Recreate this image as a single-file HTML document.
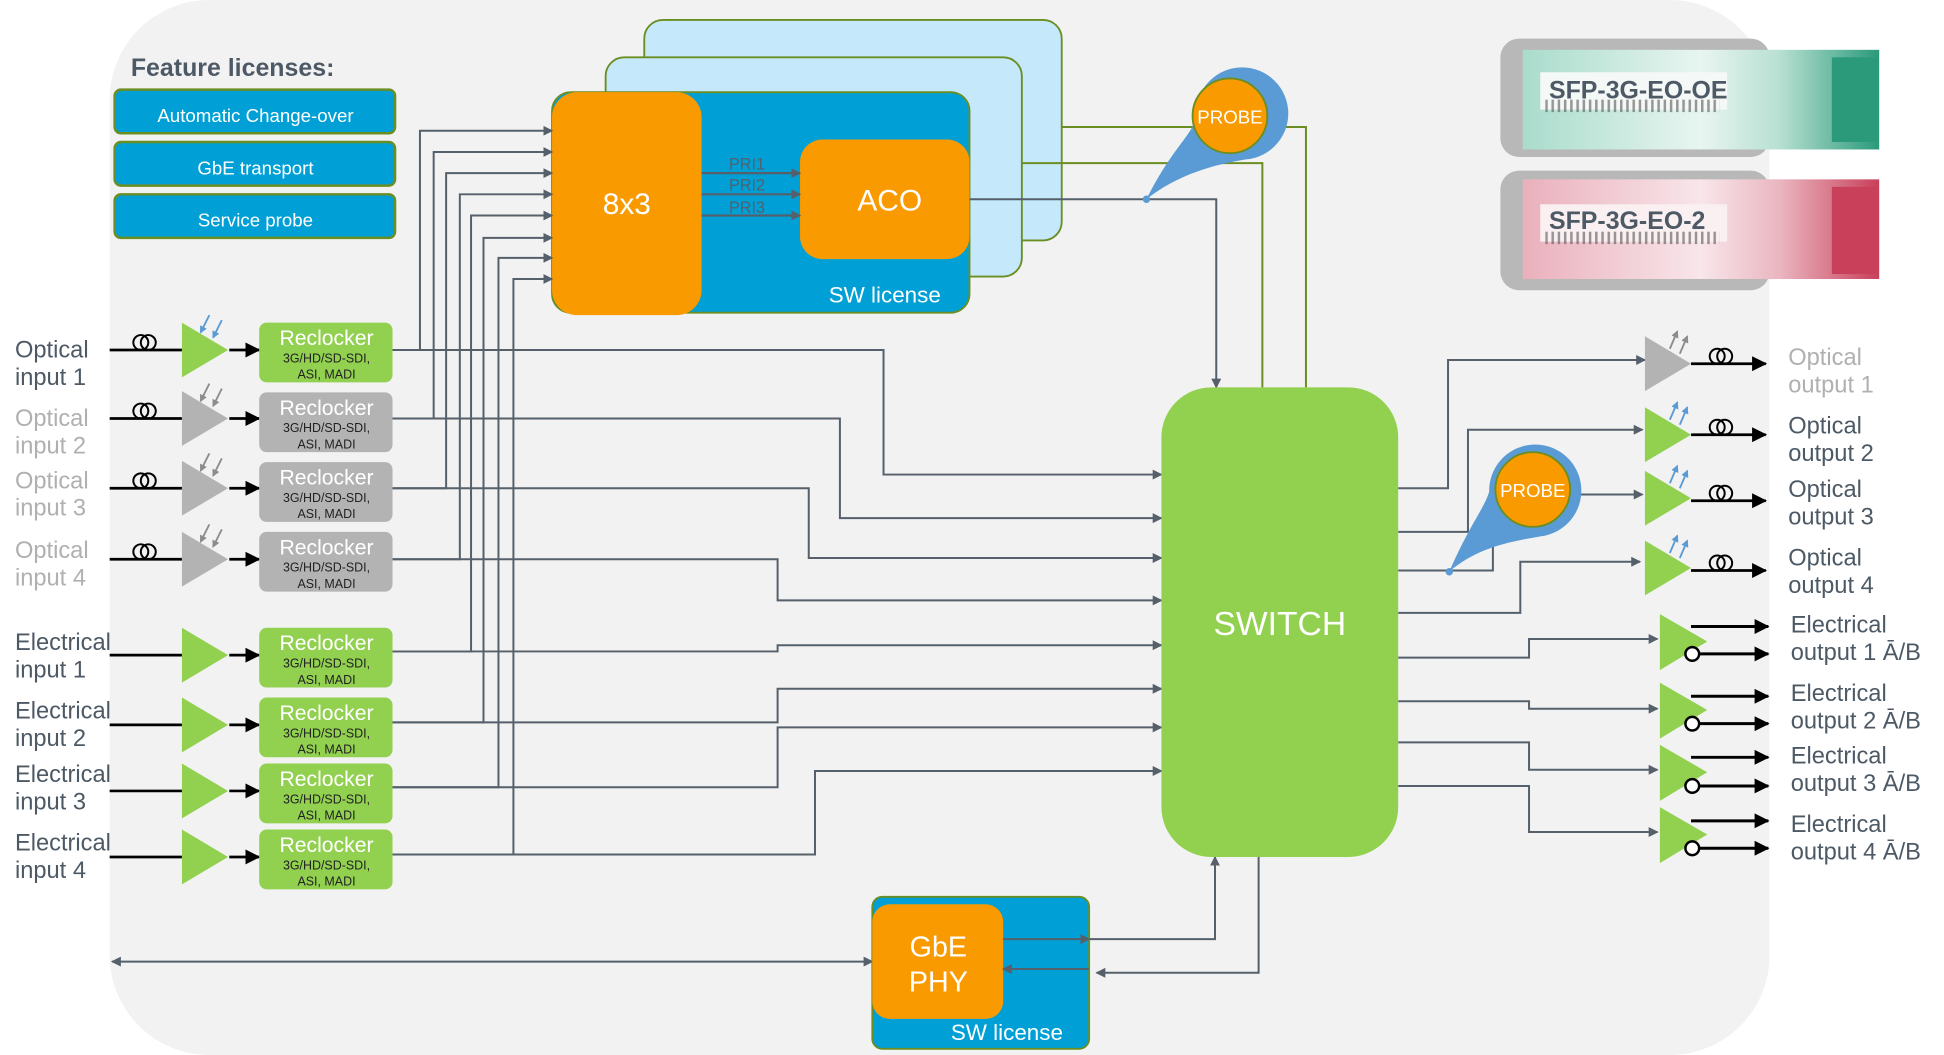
<!DOCTYPE html>
<html><head><meta charset="utf-8"><style>
html,body{margin:0;padding:0;background:#fff;}
svg{display:block;}
text{font-family:"Liberation Sans",sans-serif;}
</style></head><body>
<svg width="1944" height="1055" viewBox="0 0 1560 847" preserveAspectRatio="none" xmlns="http://www.w3.org/2000/svg">
<defs>
<marker id="ag" markerWidth="8" markerHeight="8" refX="7" refY="4" orient="auto" markerUnits="userSpaceOnUse"><path d="M0,0 L8,4 L0,8 z" fill="#55606b"/></marker>
<marker id="agS" markerWidth="8" markerHeight="8" refX="1" refY="4" orient="auto" markerUnits="userSpaceOnUse"><path d="M8,0 L0,4 L8,8 z" fill="#55606b"/></marker>
<marker id="ab" markerWidth="12" markerHeight="12" refX="11" refY="6" orient="auto" markerUnits="userSpaceOnUse"><path d="M0,0 L12,6 L0,12 z" fill="#000"/></marker>
<marker id="abl" markerWidth="6" markerHeight="6" refX="5" refY="3" orient="auto" markerUnits="userSpaceOnUse"><path d="M0,0 L6,3 L0,6 z" fill="#5b9bd5"/></marker>
<marker id="agr" markerWidth="6" markerHeight="6" refX="5" refY="3" orient="auto" markerUnits="userSpaceOnUse"><path d="M0,0 L6,3 L0,6 z" fill="#8c8c8c"/></marker>
<linearGradient id="teal" x1="0" x2="1"><stop offset="0" stop-color="#a9dccc"/><stop offset="0.5" stop-color="#e8f5f0"/><stop offset="0.72" stop-color="#b8e0d2"/><stop offset="1" stop-color="#2a9a7a"/></linearGradient>
<linearGradient id="pink" x1="0" x2="1"><stop offset="0" stop-color="#eab0bc"/><stop offset="0.5" stop-color="#f8e6ea"/><stop offset="0.72" stop-color="#eab6c0"/><stop offset="1" stop-color="#c8405a"/></linearGradient>
<pattern id="bar" width="5" height="10" patternUnits="userSpaceOnUse"><rect width="2" height="10" fill="#555"/></pattern>
</defs>
<!-- background -->
<rect x="88" y="0" width="1332" height="847" rx="80" fill="#f2f2f2"/>

<!-- feature licenses -->
<text x="105" y="61" font-size="20" font-weight="bold" fill="#4d5a66">Feature licenses:</text>
<g stroke="#6b8e23" stroke-width="2" fill="#00a0d6">
<rect x="92" y="72" width="225" height="35" rx="5"/>
<rect x="92" y="114" width="225" height="35" rx="5"/>
<rect x="92" y="156" width="225" height="35" rx="5"/>
</g>
<g fill="#fff" font-size="15" text-anchor="middle">
<text x="205" y="98">Automatic Change-over</text>
<text x="205" y="140">GbE transport</text>
<text x="205" y="182">Service probe</text>
</g>

<!-- stacked SW license -->
<rect x="517" y="16" width="335" height="177" rx="15" fill="#c5e8fb" stroke="#6b8e23" stroke-width="1.5"/>
<rect x="486" y="46" width="334" height="176" rx="15" fill="#c5e8fb" stroke="#6b8e23" stroke-width="1.5"/>
<rect x="443" y="74" width="335" height="177" rx="15" fill="#00a0d6" stroke="#6b8e23" stroke-width="1.5"/>
<rect x="443" y="74" width="120" height="179" rx="20" fill="#f99a00"/>
<rect x="642" y="112" width="136" height="96" rx="18" fill="#f99a00"/>
<text x="503" y="172" font-size="24" fill="#fff" text-anchor="middle">8x3</text>
<text x="714" y="169" font-size="24" fill="#fff" text-anchor="middle">ACO</text>
<text x="710" y="243" font-size="18" fill="#fff" text-anchor="middle">SW license</text>
<g stroke="#55606b" stroke-width="1.8" marker-end="url(#ag)">
<line x1="563" y1="139" x2="642" y2="139"/>
<line x1="563" y1="156" x2="642" y2="156"/>
<line x1="563" y1="173" x2="642" y2="173"/>
</g>
<g font-size="13" fill="#55606b"><text x="585" y="136">PRI1</text><text x="585" y="153">PRI2</text><text x="585" y="171">PRI3</text></g>

<!-- connectors -->
<g stroke="#55606b" stroke-width="1.6" fill="none">
<!-- to 8x3 -->
<path d="M315,281 H337 V105 H443" marker-end="url(#ag)"/>
<path d="M315,336 H348 V122 H443" marker-end="url(#ag)"/>
<path d="M315,392 H358 V139 H443" marker-end="url(#ag)"/>
<path d="M315,449 H369 V156 H443" marker-end="url(#ag)"/>
<path d="M315,523 H378 V173 H443" marker-end="url(#ag)"/>
<path d="M315,580 H388 V191 H443" marker-end="url(#ag)"/>
<path d="M315,632 H400 V207 H443" marker-end="url(#ag)"/>
<path d="M315,686 H412 V224 H443" marker-end="url(#ag)"/>
<!-- to switch -->
<path d="M315,281 H709 V381 H932" marker-end="url(#ag)"/>
<path d="M315,336 H674 V416 H932" marker-end="url(#ag)"/>
<path d="M315,392 H649 V448 H932" marker-end="url(#ag)"/>
<path d="M315,449 H624 V482 H932" marker-end="url(#ag)"/>
<path d="M315,523 H624 V518 H932" marker-end="url(#ag)"/>
<path d="M315,580 H624 V553 H932" marker-end="url(#ag)"/>
<path d="M315,632 H624 V584 H932" marker-end="url(#ag)"/>
<path d="M315,686 H654 V619 H932" marker-end="url(#ag)"/>
<!-- ACO to switch -->
<path d="M778,160 H976 V311" marker-end="url(#ag)"/>
<!-- switch outputs -->
<path d="M1122,392 H1162 V289 H1320" marker-end="url(#ag)"/>
<path d="M1122,427 H1178 V345 H1318" marker-end="url(#ag)"/>
<path d="M1268,397 H1318" marker-end="url(#ag)"/>
<path d="M1122,458 H1198 V432"/>
<path d="M1122,492 H1220 V451 H1316" marker-end="url(#ag)"/>
<path d="M1122,528 H1227 V513 H1330" marker-end="url(#ag)"/>
<path d="M1122,563 H1227 V569 H1330" marker-end="url(#ag)"/>
<path d="M1122,596 H1227 V618 H1330" marker-end="url(#ag)"/>
<path d="M1122,631 H1227 V668 H1330" marker-end="url(#ag)"/>
<!-- GbE -->
<path d="M805,754 H874" marker-end="url(#ag)"/>
<path d="M874,754 H975 V688" marker-end="url(#ag)"/>
<path d="M1010,688 V781 H880" marker-end="url(#ag)"/>
<path d="M874,778 H805" marker-end="url(#ag)"/>
<path d="M90,772 H700" marker-start="url(#agS)" marker-end="url(#ag)"/>
</g>
<!-- olive lines -->
<g stroke="#6b8e23" stroke-width="1.6" fill="none">
<path d="M852,102 H1048 V311"/>
<path d="M820,131 H1013 V311"/>
</g>

<!-- probe 1 -->
<path d="M920,160 C940,120 955,110 960,95 A37,37 0 1 1 1000,128 C975,132 945,140 920,160 z" fill="#5b9bd5"/>
<circle cx="987" cy="93" r="30" fill="#f99a00" stroke="#6b8e23" stroke-width="1.5"/>
<text x="987" y="99" font-size="15" fill="#fff" text-anchor="middle">PROBE</text>
<circle cx="920" cy="160" r="3" fill="#5b9bd5"/>
<!-- probe 2 -->
<path d="M1163,459 C1180,420 1190,410 1195,395 A37,37 0 1 1 1240,430 C1210,435 1185,440 1163,459 z" fill="#5b9bd5"/>
<circle cx="1230" cy="393" r="30" fill="#f99a00" stroke="#6b8e23" stroke-width="1.5"/>
<text x="1230" y="399" font-size="15" fill="#fff" text-anchor="middle">PROBE</text>
<circle cx="1163" cy="459" r="3" fill="#5b9bd5"/>

<!-- switch -->
<rect x="932" y="311" width="190" height="377" rx="40" fill="#92d050"/>
<text x="1027" y="510" font-size="27" fill="#fff" text-anchor="middle">SWITCH</text>

<!-- GbE PHY -->
<rect x="700" y="720" width="174" height="122" rx="8" fill="#00a0d6" stroke="#6b8e23" stroke-width="1.5"/>
<rect x="700" y="726" width="105" height="92" rx="14" fill="#f99a00"/>
<text x="753" y="768" font-size="23" fill="#fff" text-anchor="middle">GbE</text>
<text x="753" y="796" font-size="23" fill="#fff" text-anchor="middle">PHY</text>
<text x="808" y="835" font-size="18" fill="#fff" text-anchor="middle">SW license</text>
<g stroke="#55606b" stroke-width="1.6" fill="none">
<path d="M805,754 H874" marker-end="url(#ag)"/>
<path d="M874,778 H805" marker-end="url(#ag)"/>
</g>

<!-- inputs -->
<g font-size="19">
<text x="12" y="287" fill="#4d5a66">Optical</text><text x="12" y="309" fill="#4d5a66">input 1</text>
<text x="12" y="342" fill="#b0b0b0">Optical</text><text x="12" y="364" fill="#b0b0b0">input 2</text>
<text x="12" y="392" fill="#b0b0b0">Optical</text><text x="12" y="414" fill="#b0b0b0">input 3</text>
<text x="12" y="448" fill="#b0b0b0">Optical</text><text x="12" y="470" fill="#b0b0b0">input 4</text>
<text x="12" y="522" fill="#4d5a66">Electrical</text><text x="12" y="544" fill="#4d5a66">input 1</text>
<text x="12" y="577" fill="#4d5a66">Electrical</text><text x="12" y="599" fill="#4d5a66">input 2</text>
<text x="12" y="628" fill="#4d5a66">Electrical</text><text x="12" y="650" fill="#4d5a66">input 3</text>
<text x="12" y="683" fill="#4d5a66">Electrical</text><text x="12" y="705" fill="#4d5a66">input 4</text>
</g>
<g stroke="#000" stroke-width="2.2" fill="none">
<line x1="88" y1="281" x2="146" y2="281"/><line x1="88" y1="336" x2="146" y2="336"/>
<line x1="88" y1="392" x2="146" y2="392"/><line x1="88" y1="449" x2="146" y2="449"/>
<line x1="88" y1="526" x2="146" y2="526"/><line x1="88" y1="582" x2="146" y2="582"/>
<line x1="88" y1="635" x2="146" y2="635"/><line x1="88" y1="688" x2="146" y2="688"/>
<g stroke-width="1.6">
<circle cx="113" cy="275" r="6"/><circle cx="119" cy="275" r="6"/>
<circle cx="113" cy="330" r="6"/><circle cx="119" cy="330" r="6"/>
<circle cx="113" cy="386" r="6"/><circle cx="119" cy="386" r="6"/>
<circle cx="113" cy="443" r="6"/><circle cx="119" cy="443" r="6"/>
</g>
</g>
<!-- triangles -->
<g>
<path d="M146,259 L183,281 L146,303 z" fill="#92d050"/>
<path d="M146,314 L183,336 L146,358 z" fill="#b3b3b3"/>
<path d="M146,370 L183,392 L146,414 z" fill="#b3b3b3"/>
<path d="M146,427 L183,449 L146,471 z" fill="#b3b3b3"/>
<path d="M146,504 L183,526 L146,548 z" fill="#92d050"/>
<path d="M146,560 L183,582 L146,604 z" fill="#92d050"/>
<path d="M146,613 L183,635 L146,657 z" fill="#92d050"/>
<path d="M146,666 L183,688 L146,710 z" fill="#92d050"/>
</g>
<g stroke-width="1.5">
<line x1="168" y1="253" x2="161" y2="267" stroke="#5b9bd5" marker-end="url(#abl)"/><line x1="178" y1="257" x2="171" y2="271" stroke="#5b9bd5" marker-end="url(#abl)"/>
<line x1="168" y1="308" x2="161" y2="322" stroke="#8c8c8c" marker-end="url(#agr)"/><line x1="178" y1="312" x2="171" y2="326" stroke="#8c8c8c" marker-end="url(#agr)"/>
<line x1="168" y1="364" x2="161" y2="378" stroke="#8c8c8c" marker-end="url(#agr)"/><line x1="178" y1="368" x2="171" y2="382" stroke="#8c8c8c" marker-end="url(#agr)"/>
<line x1="168" y1="421" x2="161" y2="435" stroke="#8c8c8c" marker-end="url(#agr)"/><line x1="178" y1="425" x2="171" y2="439" stroke="#8c8c8c" marker-end="url(#agr)"/>
</g>
<g stroke="#000" stroke-width="2.2" marker-end="url(#ab)">
<line x1="184" y1="281" x2="208" y2="281"/><line x1="184" y1="336" x2="208" y2="336"/>
<line x1="184" y1="392" x2="208" y2="392"/><line x1="184" y1="449" x2="208" y2="449"/>
<line x1="184" y1="526" x2="208" y2="526"/><line x1="184" y1="582" x2="208" y2="582"/>
<line x1="184" y1="635" x2="208" y2="635"/><line x1="184" y1="688" x2="208" y2="688"/>
</g>
<!-- reclockers -->
<g>
<rect x="208" y="259" width="107" height="48" rx="6" fill="#92d050"/>
<rect x="208" y="315" width="107" height="48" rx="6" fill="#b3b3b3"/>
<rect x="208" y="371" width="107" height="48" rx="6" fill="#b3b3b3"/>
<rect x="208" y="427" width="107" height="48" rx="6" fill="#b3b3b3"/>
<rect x="208" y="504" width="107" height="48" rx="6" fill="#92d050"/>
<rect x="208" y="560" width="107" height="48" rx="6" fill="#92d050"/>
<rect x="208" y="613" width="107" height="48" rx="6" fill="#92d050"/>
<rect x="208" y="666" width="107" height="48" rx="6" fill="#92d050"/>
</g>
<g text-anchor="middle">
<g transform="translate(262,259)"><text y="18" font-size="17" fill="#fff">Reclocker</text><text y="32" font-size="10" fill="#222">3G/HD/SD-SDI,</text><text y="45" font-size="10" fill="#222">ASI, MADI</text></g>
<g transform="translate(262,315)"><text y="18" font-size="17" fill="#fff">Reclocker</text><text y="32" font-size="10" fill="#222">3G/HD/SD-SDI,</text><text y="45" font-size="10" fill="#222">ASI, MADI</text></g>
<g transform="translate(262,371)"><text y="18" font-size="17" fill="#fff">Reclocker</text><text y="32" font-size="10" fill="#222">3G/HD/SD-SDI,</text><text y="45" font-size="10" fill="#222">ASI, MADI</text></g>
<g transform="translate(262,427)"><text y="18" font-size="17" fill="#fff">Reclocker</text><text y="32" font-size="10" fill="#222">3G/HD/SD-SDI,</text><text y="45" font-size="10" fill="#222">ASI, MADI</text></g>
<g transform="translate(262,504)"><text y="18" font-size="17" fill="#fff">Reclocker</text><text y="32" font-size="10" fill="#222">3G/HD/SD-SDI,</text><text y="45" font-size="10" fill="#222">ASI, MADI</text></g>
<g transform="translate(262,560)"><text y="18" font-size="17" fill="#fff">Reclocker</text><text y="32" font-size="10" fill="#222">3G/HD/SD-SDI,</text><text y="45" font-size="10" fill="#222">ASI, MADI</text></g>
<g transform="translate(262,613)"><text y="18" font-size="17" fill="#fff">Reclocker</text><text y="32" font-size="10" fill="#222">3G/HD/SD-SDI,</text><text y="45" font-size="10" fill="#222">ASI, MADI</text></g>
<g transform="translate(262,666)"><text y="18" font-size="17" fill="#fff">Reclocker</text><text y="32" font-size="10" fill="#222">3G/HD/SD-SDI,</text><text y="45" font-size="10" fill="#222">ASI, MADI</text></g>
</g>

<!-- optical outputs -->
<g>
<path d="M1320,270 L1357,292 L1320,314 z" fill="#b3b3b3"/>
<path d="M1320,327 L1357,349 L1320,371 z" fill="#92d050"/>
<path d="M1320,378 L1357,400 L1320,422 z" fill="#92d050"/>
<path d="M1320,434 L1357,456 L1320,478 z" fill="#92d050"/>
</g>
<g stroke-width="1.5">
<line x1="1340" y1="280" x2="1346" y2="266" stroke="#8c8c8c" marker-end="url(#agr)"/><line x1="1348" y1="284" x2="1354" y2="270" stroke="#8c8c8c" marker-end="url(#agr)"/>
<line x1="1340" y1="337" x2="1346" y2="323" stroke="#5b9bd5" marker-end="url(#abl)"/><line x1="1348" y1="341" x2="1354" y2="327" stroke="#5b9bd5" marker-end="url(#abl)"/>
<line x1="1340" y1="388" x2="1346" y2="374" stroke="#5b9bd5" marker-end="url(#abl)"/><line x1="1348" y1="392" x2="1354" y2="378" stroke="#5b9bd5" marker-end="url(#abl)"/>
<line x1="1340" y1="444" x2="1346" y2="430" stroke="#5b9bd5" marker-end="url(#abl)"/><line x1="1348" y1="448" x2="1354" y2="434" stroke="#5b9bd5" marker-end="url(#abl)"/>
</g>
<g stroke="#000" stroke-width="2.2" fill="none">
<line x1="1357" y1="292" x2="1417" y2="292" marker-end="url(#ab)"/>
<line x1="1357" y1="349" x2="1417" y2="349" marker-end="url(#ab)"/>
<line x1="1357" y1="402" x2="1417" y2="402" marker-end="url(#ab)"/>
<line x1="1357" y1="458" x2="1417" y2="458" marker-end="url(#ab)"/>
<g stroke-width="1.6">
<circle cx="1378" cy="286" r="6"/><circle cx="1384" cy="286" r="6"/>
<circle cx="1378" cy="343" r="6"/><circle cx="1384" cy="343" r="6"/>
<circle cx="1378" cy="396" r="6"/><circle cx="1384" cy="396" r="6"/>
<circle cx="1378" cy="452" r="6"/><circle cx="1384" cy="452" r="6"/>
</g>
</g>
<g font-size="19">
<text x="1435" y="293" fill="#b0b0b0">Optical</text><text x="1435" y="315" fill="#b0b0b0">output 1</text>
<text x="1435" y="348" fill="#4d5a66">Optical</text><text x="1435" y="370" fill="#4d5a66">output 2</text>
<text x="1435" y="399" fill="#4d5a66">Optical</text><text x="1435" y="421" fill="#4d5a66">output 3</text>
<text x="1435" y="454" fill="#4d5a66">Optical</text><text x="1435" y="476" fill="#4d5a66">output 4</text>
</g>

<!-- electrical outputs -->
<g fill="#92d050">
<path d="M1332,493 L1370,515 L1332,538 z"/>
<path d="M1332,548 L1370,570 L1332,593 z"/>
<path d="M1332,598 L1370,620 L1332,643 z"/>
<path d="M1332,648 L1370,670 L1332,693 z"/>
</g>
<g stroke="#000" stroke-width="2.4" fill="none" marker-end="url(#ab)">
<line x1="1357" y1="503" x2="1419" y2="503"/><line x1="1364" y1="525" x2="1419" y2="525"/>
<line x1="1357" y1="559" x2="1419" y2="559"/><line x1="1364" y1="581" x2="1419" y2="581"/>
<line x1="1357" y1="608" x2="1419" y2="608"/><line x1="1364" y1="631" x2="1419" y2="631"/>
<line x1="1357" y1="659" x2="1419" y2="659"/><line x1="1364" y1="681" x2="1419" y2="681"/>
</g>
<g stroke="#000" stroke-width="2" fill="#fff">
<circle cx="1358" cy="525" r="5.5"/><circle cx="1358" cy="581" r="5.5"/><circle cx="1358" cy="631" r="5.5"/><circle cx="1358" cy="681" r="5.5"/>
</g>
<g font-size="19" fill="#4d5a66">
<text x="1437" y="508">Electrical</text><text x="1437" y="530">output 1 Ā/B</text>
<text x="1437" y="563">Electrical</text><text x="1437" y="585">output 2 Ā/B</text>
<text x="1437" y="613">Electrical</text><text x="1437" y="635">output 3 Ā/B</text>
<text x="1437" y="668">Electrical</text><text x="1437" y="690">output 4 Ā/B</text>
</g>

<!-- SFP modules -->
<rect x="1204" y="31" width="216" height="95" rx="15" fill="#b8b8b8"/>
<rect x="1222" y="40" width="286" height="80" fill="url(#teal)"/>
<rect x="1236" y="58" width="150" height="30" fill="#f4f8f6"/>
<rect x="1240" y="80" width="140" height="10" fill="url(#bar)" opacity="0.6"/>
<rect x="1470" y="46" width="36" height="68" fill="#2a9a7a"/>
<text x="1243" y="79" font-size="20" font-weight="bold" fill="#4d5a66">SFP-3G-EO-OE</text>
<rect x="1204" y="137" width="216" height="96" rx="15" fill="#b8b8b8"/>
<rect x="1222" y="144" width="286" height="80" fill="url(#pink)"/>
<rect x="1236" y="164" width="150" height="30" fill="#faf0f2"/>
<rect x="1240" y="186" width="140" height="10" fill="url(#bar)" opacity="0.6"/>
<rect x="1470" y="150" width="36" height="70" fill="#c8405a"/>
<text x="1243" y="184" font-size="20" font-weight="bold" fill="#4d5a66">SFP-3G-EO-2</text>
</svg>
</body></html>
